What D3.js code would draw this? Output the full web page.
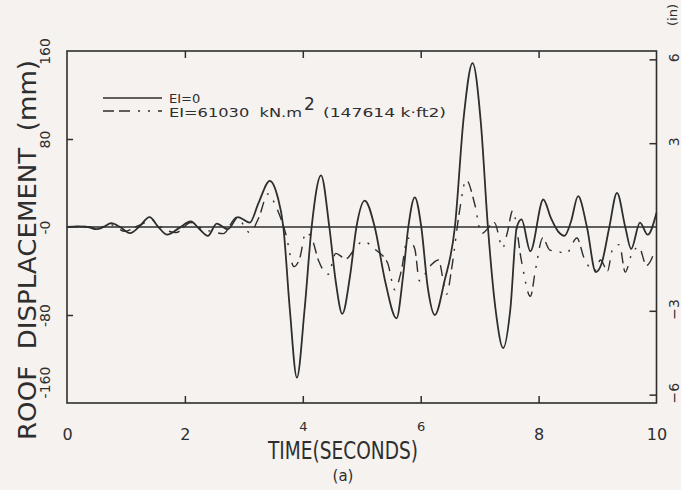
<!DOCTYPE html>
<html>
<head>
<meta charset="utf-8">
<script src="https://cdnjs.cloudflare.com/ajax/libs/d3/7.8.5/d3.min.js"></script>
<style>
body{margin:0;background:#f6f2ef;}
svg{display:block;font-family:"DejaVu Sans","Liberation Sans",sans-serif;}
</style>
</head>
<body>
<div id="chart"></div>
<script>
// values: time (s) and roof displacement (mm)
let t_ei0 = [0,0.2,0.35,0.5,0.62,0.75,0.9,1.07,1.22,1.4,1.55,1.7,1.9,2.1,2.25,2.39,2.54,2.73,2.9,3.1,3.25,3.44,3.57,3.67,3.78,3.9,4.03,4.15,4.31,4.45,4.56,4.67,4.8,4.91,5.05,5.22,5.4,5.59,5.7,5.79,5.9,6.01,6.12,6.24,6.4,6.58,6.73,6.88,7.02,7.14,7.27,7.4,7.52,7.63,7.71,7.86,8.08,8.21,8.33,8.44,8.55,8.67,8.82,8.97,9.07,9.2,9.33,9.47,9.57,9.72,9.85,10]
let d_ei0 = [0,0.5,0,-2,0,3.5,0,-5.5,0,9,0,-7,-1,5,-2,-8,3,-2,9,4,22,42,28,0,-75,-137,-75,0,47,0,-50,-79,-45,0,24,0,-50,-83,-45,0,27,0,-55,-80,-50,0,100,149,95,0,-75,-110,-75,0,7,-22,25,8,-4,-8,5,28,0,-41,-33,0,31,0,-20,4,-7,13]

let t_ei61030 = [0,0.3,0.5,0.75,0.98,1.2,1.45,1.65,1.85,2.1,2.3,2.45,2.65,2.88,3.1,3.25,3.41,3.55,3.71,3.85,3.95,4.05,4.15,4.27,4.43,4.56,4.73,4.88,5.02,5.24,5.44,5.56,5.67,5.78,5.9,5.98,6.15,6.3,6.44,6.53,6.66,6.77,6.92,7.03,7.25,7.39,7.47,7.56,7.71,7.86,7.95,8.07,8.19,8.3,8.47,8.65,8.77,8.95,9.05,9.17,9.25,9.37,9.47,9.57,9.7,9.83,9.97]
let d_ei61030 = [0,0.5,-1,2,-4,1,6,-2,-5,4,-2,-4,-6,9,-5,8,30,18,-6,-36,-28,-5,-10,-31,-43,-24,-29,-20,-13,-21,-33,-57,-40,-10,-20,-49,-36,-30,-61,-36,15,43,20,-6,4,-19,-5,15,-31,-63,-38,-10,-21,-22,-24,-10,-28,-40,-30,-40,-21,-16,-41,-26,-18,-35,-22]

let xTicks = [0,2,4,6,8,10]
let mmTicks = [-160,-80,0,80,160]
let mmLabels = ['-160','-80','-0','80','160']
let inTicks = [-6,-3,3,6]
let legendNames = ['EI=0','EI=61030  kN.m','2','(147614 k\u00b7ft2)']

let width = 681, height = 490
let mLeft = 67, mRight = 656.5, mTop = 51, mBottom = 403
let ink = '#2e2e2e'
let dashdot = '11,5,11,8,2,8,2,8'

let x = d3.scaleLinear().domain([0,10]).range([mLeft,mRight])
let y = d3.scaleLinear().domain([-160,160]).range([mBottom,mTop])
// right axis is the same thing in inches
let yIn = d3.scaleLinear().domain([-160/25.4,160/25.4]).range([mBottom,mTop])

let svg = d3.select('#chart').append('svg')
	.attr('width',width)
	.attr('height',height)

svg.append('rect').attr('width',width).attr('height',height).attr('fill','#f6f2ef')

// left axis (mm), ticks point inside
let gl = svg.append('g')
	.attr('transform','translate('+mLeft+',0)')
	.call(d3.axisLeft(y).tickValues(mmTicks).tickSize(-6).tickFormat(function(d,i){ return mmLabels[i] }))
gl.attr('font-family',null).attr('font-size',null)
gl.select('.domain').remove()
gl.selectAll('.tick line').attr('stroke',ink).attr('stroke-width',1.5)
	.filter(function(d){ return d==0 || Math.abs(d)==160 }).remove()
gl.selectAll('.tick text')
	.attr('x',null).attr('dy',null)
	.attr('transform',function(d){ return 'translate(-17,'+(d==-160 ? -21 : 0)+') rotate(-90)' })
	.attr('text-anchor','middle')
	.attr('font-size',14)
	.attr('fill',ink)

// right axis (in)
let gr = svg.append('g')
	.attr('transform','translate('+mRight+',0)')
	.call(d3.axisRight(yIn).tickValues(inTicks).tickSize(-7))
gr.attr('font-family',null).attr('font-size',null)
gr.select('.domain').remove()
gr.selectAll('.tick line').attr('stroke',ink).attr('stroke-width',1.5)
gr.selectAll('.tick text')
	.attr('x',null).attr('dy',null)
	.attr('transform','translate(22,-2) rotate(-90)')
	.attr('text-anchor','middle')
	.attr('font-size',14)
	.attr('fill',ink)

// bottom axis
let gb = svg.append('g')
	.attr('transform','translate(0,'+mBottom+')')
	.call(d3.axisBottom(x).tickValues(xTicks).tickSize(-7))
gb.attr('font-family',null).attr('font-size',null)
gb.select('.domain').remove()
gb.selectAll('.tick line').attr('stroke',ink).attr('stroke-width',1.5)
	.filter(function(d){ return d==0 || d==10 }).remove()
gb.selectAll('.tick text')
	.attr('dy',null)
	.attr('y',function(d){ return (d==4 || d==6) ? 28 : 37 })
	.attr('font-size',function(d){ return (d==4 || d==6) ? 13 : 16 })
	.attr('fill',ink)

// top ticks, no labels
let gt = svg.append('g')
	.attr('transform','translate(0,'+mTop+')')
	.call(d3.axisTop(x).tickValues([2,4,6,8]).tickSize(-7).tickFormat(''))
gt.select('.domain').remove()
gt.selectAll('.tick line').attr('stroke',ink).attr('stroke-width',1.5)

// frame
svg.append('rect')
	.attr('x',mLeft).attr('y',mTop)
	.attr('width',mRight-mLeft).attr('height',mBottom-mTop)
	.attr('fill','none').attr('stroke',ink).attr('stroke-width',1.6)

// zero line
svg.append('line')
	.attr('x1',x(0)).attr('x2',x(10))
	.attr('y1',y(0)).attr('y2',y(0))
	.attr('stroke',ink).attr('stroke-width',1.5)

let line = d3.line()
	.x(function(d){ return x(d[0]) })
	.y(function(d){ return y(d[1]) })
	.curve(d3.curveMonotoneX)

svg.append('path')
	.datum(d3.zip(t_ei61030,d_ei61030))
	.attr('d',line)
	.attr('fill','none').attr('stroke',ink).attr('stroke-width',1.4)
	.attr('stroke-dasharray',dashdot)

svg.append('path')
	.datum(d3.zip(t_ei0,d_ei0))
	.attr('d',line)
	.attr('fill','none').attr('stroke',ink).attr('stroke-width',1.8)

// legend
svg.append('line').attr('x1',103).attr('x2',162).attr('y1',98).attr('y2',98)
	.attr('stroke',ink).attr('stroke-width',1.6)
svg.append('line').attr('x1',103).attr('x2',162).attr('y1',111).attr('y2',111)
	.attr('stroke',ink).attr('stroke-width',1.6).attr('stroke-dasharray',dashdot)
svg.append('text').attr('x',169).attr('y',103).attr('font-size',13).attr('fill',ink)
	.text(legendNames[0])
svg.append('text').attr('x',169).attr('y',117).attr('font-size',13).attr('fill',ink)
	.attr('textLength',133).attr('lengthAdjust','spacingAndGlyphs')
	.style('white-space','pre').text(legendNames[1])
svg.append('text').attr('x',304).attr('y',110).attr('font-size',17).attr('fill',ink)
	.text(legendNames[2])
svg.append('text').attr('x',323).attr('y',117).attr('font-size',13).attr('fill',ink)
	.attr('textLength',123).attr('lengthAdjust','spacingAndGlyphs')
	.text(legendNames[3])

// axis titles
svg.append('text')
	.attr('transform','translate(36,250) rotate(-90)')
	.attr('text-anchor','middle')
	.attr('font-size',25).attr('fill',ink)
	.attr('textLength',380).attr('lengthAdjust','spacingAndGlyphs')
	.style('white-space','pre')
	.text('ROOF  DISPLACEMENT  (mm)')

svg.append('text')
	.attr('x',343).attr('y',459)
	.attr('text-anchor','middle')
	.attr('font-size',25).attr('fill',ink)
	.attr('textLength',150).attr('lengthAdjust','spacingAndGlyphs')
	.text('TIME(SECONDS)')

svg.append('text')
	.attr('x',343).attr('y',481)
	.attr('text-anchor','middle')
	.attr('font-size',15).attr('fill',ink)
	.text('(a)')

svg.append('text')
	.attr('transform','translate(677,15) rotate(-90)')
	.attr('text-anchor','middle')
	.attr('font-size',13).attr('fill',ink)
	.text('(in)')
</script>
</body>
</html>
